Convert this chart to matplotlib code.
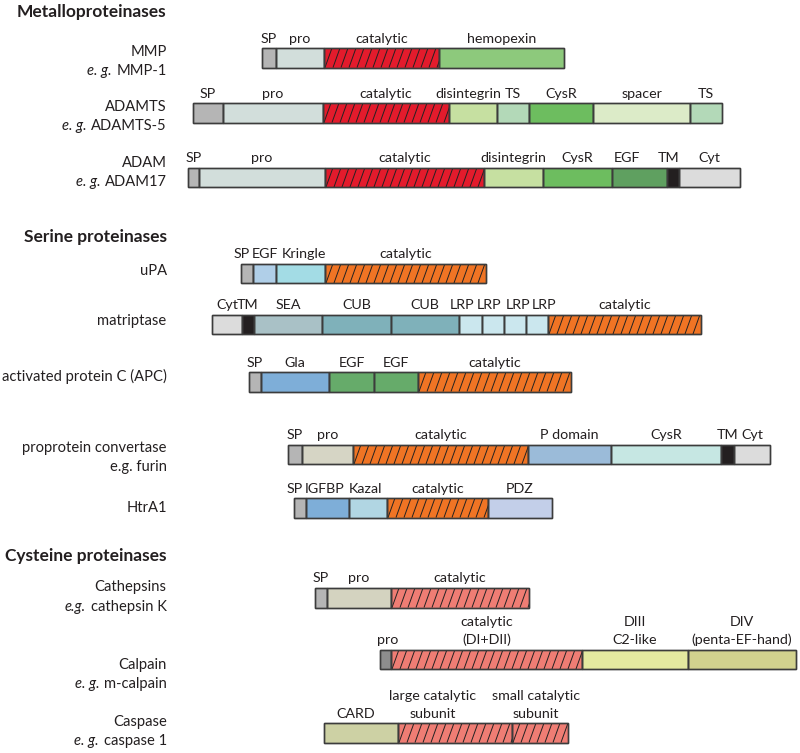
import matplotlib
matplotlib.use("Agg")
import matplotlib.pyplot as plt
from matplotlib.collections import LineCollection
from matplotlib.patches import Rectangle

plt.rcParams['font.family'] = ['Lato', 'DejaVu Sans']

# domain names and boundaries (picture x units) for each protein
MMP_DOMAINS = ["SP", "pro", "catalytic", "hemopexin"]
MMP_EDGES = [262, 276, 324, 439, 564]

ADAMTS_DOMAINS = ["SP", "pro", "catalytic", "disintegrin", "TS", "CysR", "spacer", "TS"]
ADAMTS_EDGES = [193, 223, 323, 449, 497, 529, 593, 690, 722]

ADAM_DOMAINS = ["SP", "pro", "catalytic", "disintegrin", "CysR", "EGF", "TM", "Cyt"]
ADAM_EDGES = [188, 199, 325, 484, 543, 612, 667, 679, 740]

UPA_DOMAINS = ["SP", "EGF", "Kringle", "catalytic"]
UPA_EDGES = [241, 253, 276, 325, 486]

MATRIPTASE_DOMAINS = ["Cyt", "TM", "SEA", "CUB", "CUB", "LRP", "LRP", "LRP", "LRP", "catalytic"]
MATRIPTASE_EDGES = [212, 242, 254, 322, 391, 459, 482, 504, 526, 548, 701]

APC_DOMAINS = ["SP", "Gla", "EGF", "EGF", "catalytic"]
APC_EDGES = [249, 261, 329, 374, 418, 571]

FURIN_DOMAINS = ["SP", "pro", "catalytic", "P domain", "CysR", "TM", "Cyt"]
FURIN_EDGES = [288, 302, 353, 528, 611, 721, 734, 770]

HTRA1_DOMAINS = ["SP", "IGFBP", "Kazal", "catalytic", "PDZ"]
HTRA1_EDGES = [294, 306, 349, 387, 488, 552]

CATHEPSIN_DOMAINS = ["SP", "pro", "catalytic"]
CATHEPSIN_EDGES = [315, 327, 391, 529]

CALPAIN_DOMAINS = ["pro", "catalytic\n(DI+DII)", "DIII\nC2-like", "DIV\n(penta-EF-hand)"]
CALPAIN_EDGES = [380, 391, 582, 688, 796]

CASPASE_DOMAINS = ["CARD", "large catalytic\nsubunit", "small catalytic\nsubunit"]
CASPASE_EDGES = [324, 398, 512, 568]

# fill colours, one per domain
RED, ORANGE, SALMON = "#e31b2c", "#f07424", "#ef7d74"
MMP_COLORS = ["#b5b5b5", "#d2dedb", RED, "#8dc97c"]
ADAMTS_COLORS = ["#b5b5b5", "#d2dedb", RED, "#c6e0a1", "#b3d9b8", "#6dbd5f", "#dcebc8", "#b3d9b8"]
ADAM_COLORS = ["#b5b5b5", "#d2dedb", RED, "#c6e0a1", "#6dbd5f", "#5fa060", "#231f20", "#dcdcdc"]
UPA_COLORS = ["#b5b5b5", "#b0cfe8", "#a3dce5", ORANGE]
MATRIPTASE_COLORS = ["#dcdcdc", "#231f20", "#a9c1c6", "#7fb1ba", "#7fb1ba",
                     "#cbe7ee", "#cbe7ee", "#cbe7ee", "#cbe7ee", ORANGE]
APC_COLORS = ["#b5b5b5", "#7eaed8", "#66ab6a", "#66ab6a", ORANGE]
FURIN_COLORS = ["#b5b5b5", "#d6d5c5", ORANGE, "#9bbbd9", "#c6e7e3", "#231f20", "#dcdcdc"]
HTRA1_COLORS = ["#b5b5b5", "#7eaed8", "#b1d6e3", ORANGE, "#c3cfe9"]
CATHEPSIN_COLORS = ["#b5b5b5", "#d4d3c0", SALMON]
CALPAIN_COLORS = ["#8d8d8d", SALMON, "#e4e9a0", "#d2d28e"]
CASPASE_COLORS = ["#cdd1a4", SALMON, SALMON]

# small horizontal shifts of domain labels away from the domain centre
NUDGE = {
    ("ADAMTS", 3): -5,
    ("ADAM", 5): -13, ("ADAM", 6): -4,
    ("uPA", 0): -5, ("uPA", 2): 3,
    ("matriptase", 5): -8, ("matriptase", 6): -4,
    ("matriptase", 7): 3, ("matriptase", 8): 7,
    ("HtrA1", 0): -5, ("HtrA1", 1): -2.5, ("HtrA1", 2): -2.5,
    ("Calpain", 0): 2,
    ("Caspase", 0): -5.5, ("Caspase", 1): -22, ("Caspase", 2): -4,
}

# left labels: (italic prefix, plain text) per line
# layout: (key, names, edges, colours, bar top, left labels, left label y)
rows = [
    ("MMP", MMP_DOMAINS, MMP_EDGES, MMP_COLORS, 48,
     [("", "MMP"), ("e. g.", "MMP-1")], [51.7, 70.7]),
    ("ADAMTS", ADAMTS_DOMAINS, ADAMTS_EDGES, ADAMTS_COLORS, 103,
     [("", "ADAMTS"), ("e. g.", "ADAMTS-5")], [107.3, 126]),
    ("ADAM", ADAM_DOMAINS, ADAM_EDGES, ADAM_COLORS, 167.5,
     [("", "ADAM"), ("e. g.", "ADAM17")], [163.3, 182.3]),
    ("uPA", UPA_DOMAINS, UPA_EDGES, UPA_COLORS, 263.5, [("", "uPA")], [271]),
    ("matriptase", MATRIPTASE_DOMAINS, MATRIPTASE_EDGES, MATRIPTASE_COLORS, 314.5,
     [("", "matriptase")], [321]),
    ("APC", APC_DOMAINS, APC_EDGES, APC_COLORS, 372,
     [("", "activated protein C (APC)")], [376.7]),
    ("furin", FURIN_DOMAINS, FURIN_EDGES, FURIN_COLORS, 444.5,
     [("", "proprotein convertase"), ("", "e.g. furin")], [447.7, 466.7]),
    ("HtrA1", HTRA1_DOMAINS, HTRA1_EDGES, HTRA1_COLORS, 498, [("", "HtrA1")], [507.7]),
    ("Cathepsins", CATHEPSIN_DOMAINS, CATHEPSIN_EDGES, CATHEPSIN_COLORS, 588,
     [("", "Cathepsins"), ("e.g.", "cathepsin K")], [587.3, 606.7]),
    ("Calpain", CALPAIN_DOMAINS, CALPAIN_EDGES, CALPAIN_COLORS, 649.5,
     [("", "Calpain"), ("e. g.", "m-calpain")], [665, 684]),
    ("Caspase", CASPASE_DOMAINS, CASPASE_EDGES, CASPASE_COLORS, 723,
     [("", "Caspase"), ("e. g.", "caspase 1")], [722.3, 741]),
]
sections = [("Metalloproteinases", 11.5), ("Serine proteinases", 236.7), ("Cysteine proteinases", 556)]

BAR_H = 19.5
FS = 10.3
FS_LEFT = 10.6
EDGE = "#3c3c3c"
INK = "#231f20"
RIGHT_X = 166.7

fig = plt.figure(figsize=(8, 7.53), dpi=100)
ax = fig.add_axes([0, 0, 1, 1])
ax.set_xlim(0, 800)
ax.set_ylim(753, 0)
ax.axis('off')
renderer = fig.canvas.get_renderer()


def hatch_bar(ax, x0, x1, top, height, step=8.0, lean=7.0):
    segs = []
    x = x0 - lean
    while x < x1:
        segs.append([(x, top + height), (x + lean, top)])
        x += step
    lc = LineCollection(segs, colors="#222222", linewidths=0.7, zorder=2.5)
    ax.add_collection(lc)
    clip = Rectangle((x0, top), x1 - x0, height, transform=ax.transData)
    lc.set_clip_path(clip)


for key, names, edges, colors, top, left, left_y in rows:
    starts = edges[:-1]
    widths = [b - a for a, b in zip(edges[:-1], edges[1:])]
    ax.barh([top + BAR_H / 2] * len(names), widths, left=starts, height=BAR_H,
            color=colors, edgecolor=EDGE, linewidth=1.0, zorder=2)
    for i, (name, a, b) in enumerate(zip(names, edges[:-1], edges[1:])):
        if "catalytic" in name:
            hatch_bar(ax, a, b, top, BAR_H)
        cx = (a + b) / 2 + NUDGE.get((key, i), 0)
        for k, line in enumerate(reversed(name.split("\n"))):
            ax.text(cx, top - 5.5 - k * 17.5, line, ha='center',
                    va='baseline', fontsize=FS, color=INK)
    # outline again on top of the hatch lines
    for a, w in zip(starts, widths):
        ax.add_patch(Rectangle((a, top), w, BAR_H, fill=False, edgecolor=EDGE,
                               linewidth=1.0, zorder=3))
    for (ital, plain), y in zip(left, left_y):
        t = ax.text(RIGHT_X, y, plain, ha='right', va='center', fontsize=FS_LEFT, color=INK)
        if ital:
            bb = t.get_window_extent(renderer).transformed(ax.transData.inverted())
            x_left = min(bb.x0, bb.x1)
            ax.text(x_left - 4.5, y, ital, ha='right', va='center', fontsize=FS_LEFT,
                    style='italic', color=INK)

for title, y in sections:
    ax.text(RIGHT_X, y, title, ha='right', va='center', fontsize=12.5,
            fontweight='bold', color=INK)

fig.savefig("out.png", dpi=100)
